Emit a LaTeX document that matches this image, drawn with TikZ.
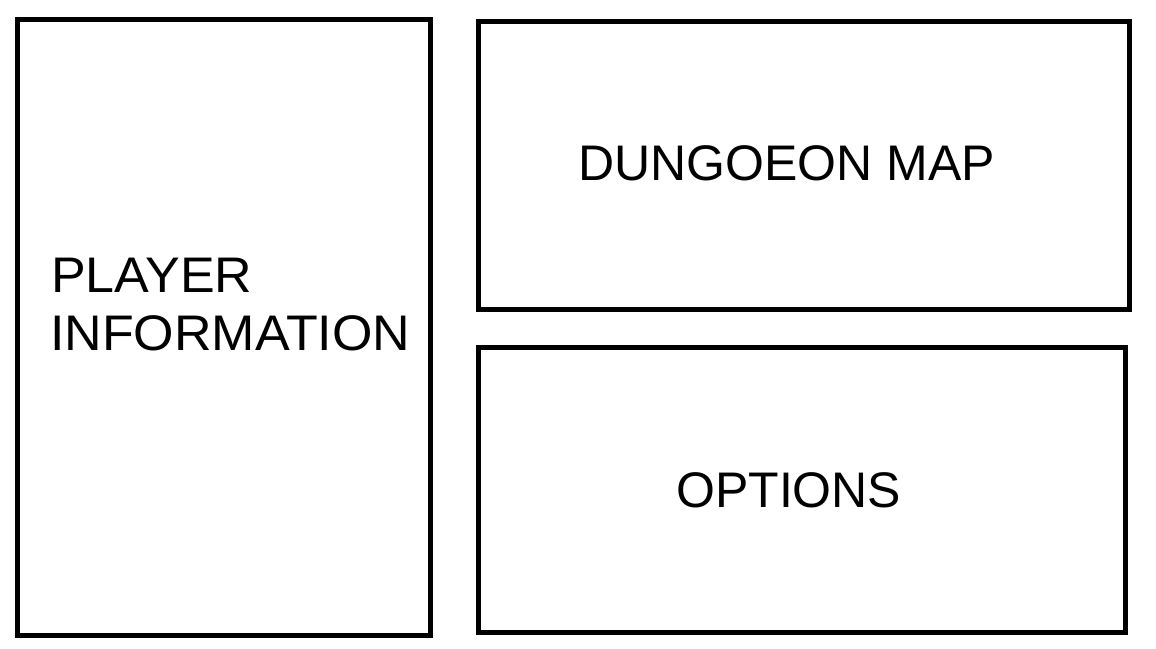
\documentclass[tikz,border=0pt]{standalone}
\usepackage{fontspec}
\setmainfont{Liberation Sans}
\newfontfamily\widefont[FakeStretch=1.04]{Liberation Sans}
\usepackage{tikz}

\begin{document}
\begin{tikzpicture}[x=1pt, y=-1pt, line join=miter]
  \tikzset{panel/.style={line width=5pt, draw=black},
           label/.style={anchor=base west, inner sep=0pt, font=\fontsize{50}{60}\selectfont}}
  \useasboundingbox (0, 0) rectangle (1156, 648);
  %--- Player information
    \draw[panel] (17.5, 19.5) rectangle (430.5, 635);
    \node[label, font=\widefont\fontsize{50}{60}\selectfont] (player) at (51, 292) {PLAYER};
    \node[label, font=\widefont\fontsize{50}{60}\selectfont] (info) at (50, 350) {INFORMATION};
  %--- Dungeon map
    \draw[panel] (478, 21.5) rectangle (1129, 309);
    \node[label] (map) at (578, 180) {DUNGOEON MAP};
  %--- Options
    \draw[panel] (478.5, 347.5) rectangle (1125, 632);
    \node[label] (options) at (676, 507) {OPTIONS};
\end{tikzpicture}
\end{document}
